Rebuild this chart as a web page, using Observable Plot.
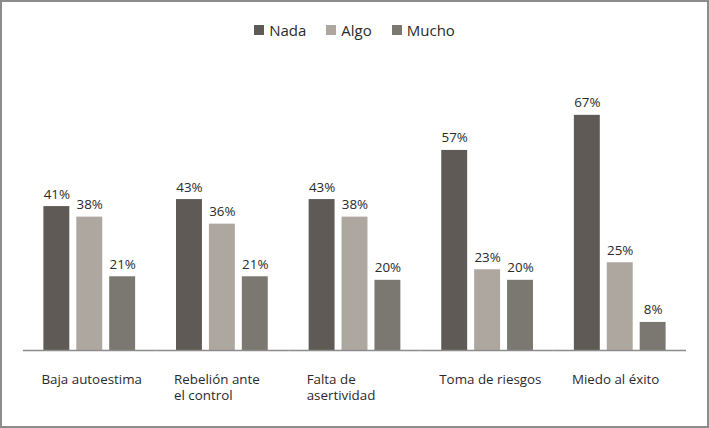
<!DOCTYPE html>
<html>
<head>
<meta charset="utf-8">
<script src="https://cdn.jsdelivr.net/npm/d3@7"></script>
<script src="https://cdn.jsdelivr.net/npm/@observablehq/plot@0.6"></script>
<style>
  html, body { margin: 0; padding: 0; background: #fff; }
  #wrap { position: relative; width: 709px; height: 428px; box-sizing: border-box; border: 2px solid #8c8c8c; font-family: "Open Sans", sans-serif; overflow: hidden; }
  #legend { position: absolute; top: 18px; left: 0; width: 705px; display: flex; justify-content: center; font-size: 15px; color: #2a2a2a; }
  #legend .item { display: flex; align-items: center; margin: 0 10px; }
  #legend .sw { width: 10px; height: 10px; margin-right: 5px; }
  #chart { position: absolute; top: -2px; left: -2px; }
</style>
</head>
<body>
<div id="wrap">
  <div id="legend"></div>
  <div id="chart"></div>
</div>
<script>
const categories = ["Baja autoestima", "Rebelión ante\nel control", "Falta de\nasertividad", "Toma de riesgos", "Miedo al éxito"];
const series = ["Nada", "Algo", "Mucho"];
const colors = ["#5f5a55", "#aea79f", "#7b7771"];
const nada = [41, 43, 43, 57, 67];
const algo = [38, 36, 38, 23, 25];
const mucho = [21, 21, 20, 20, 8];

const seriesValues = [nada, algo, mucho];
const rows = [];
categories.forEach((c, i) => {
  series.forEach((s, j) => rows.push({category: c, serie: s, value: seriesValues[j][i]}));
});

const legend = document.getElementById("legend");
series.forEach((s, j) => {
  const it = document.createElement("div");
  it.className = "item";
  const sw = document.createElement("span");
  sw.className = "sw";
  sw.style.background = colors[j];
  const t = document.createElement("span");
  t.textContent = s;
  it.appendChild(sw); it.appendChild(t);
  legend.appendChild(it);
});

const chart = Plot.plot({
  width: 709,
  height: 428,
  marginLeft: 22.5,
  marginRight: 21.5,
  marginTop: 104.6,
  marginBottom: 77,
  style: {fontFamily: "'Open Sans', sans-serif", fontSize: "13.4px", color: "#2a2a2a", background: "transparent"},
  fx: {domain: categories, paddingInner: 0, paddingOuter: 0, axis: null},
  x: {domain: series, paddingInner: 0.2, paddingOuter: 0.6, axis: null},
  y: {domain: [0, 70], axis: null},
  color: {domain: series, range: colors},
  marks: [
    Plot.barY(rows, {fx: "category", x: "serie", y: "value", fill: "serie"}),
    Plot.text(rows, {fx: "category", x: "serie", y: "value", text: d => d.value + "%", lineAnchor: "bottom", dy: -8, fill: "#2a2a2a"}),
    Plot.ruleY([0], {stroke: "#8c8c8c", strokeWidth: 1.5}),
    Plot.text(categories, {fx: d => d, frameAnchor: "bottom-left", text: d => d, textAnchor: "start", lineAnchor: "top", dx: 18, dy: 22, fill: "#2a2a2a", lineHeight: 1.2})
  ]
});
document.getElementById("chart").appendChild(chart);
</script>
</body>
</html>
